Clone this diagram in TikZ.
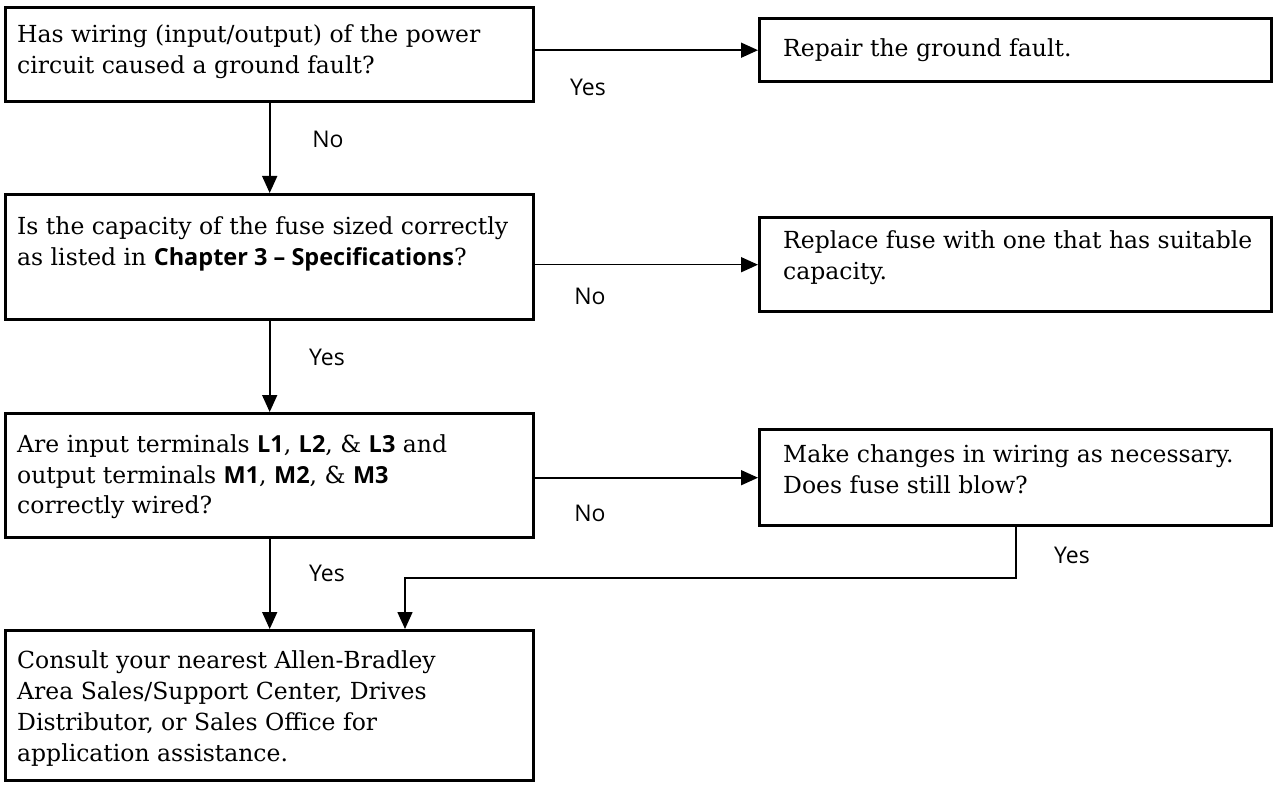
\documentclass[tikz,border=0pt]{standalone}
\usepackage{fontspec}
\setmainfont{DejaVu Serif}
\newfontfamily\lblfont{Open Sans}
\usetikzlibrary{arrows.meta}
\newcommand\bsans[1]{{\lblfont\bfseries #1}}
\begin{document}
\begin{tikzpicture}[x=1pt,y=-1pt,
  box/.style={draw, line width=3.4pt, anchor=north west, inner sep=0pt},
  txt/.style={anchor=base west, inner sep=0pt, font=\fontsize{23.5}{31}\selectfont},
  lbl/.style={font=\lblfont\fontsize{23}{26}\selectfont, inner sep=0pt},
  arr/.style={line width=1.6pt, -{Triangle[length=17pt,width=15pt]}},
  ln/.style={line width=1.6pt}]
\useasboundingbox (0,0) rectangle (1275,786);
% boxes
\node[box, minimum width=528pt, minimum height=94pt] (b1) at (4,6) {};
\node[box, minimum width=512pt, minimum height=63pt] (b2) at (758,17) {};
\node[box, minimum width=528pt, minimum height=125pt] (b3) at (4,193) {};
\node[box, minimum width=512pt, minimum height=94pt] (b4) at (758,216) {};
\node[box, minimum width=528pt, minimum height=124pt] (b5) at (4,412) {};
\node[box, minimum width=512pt, minimum height=96pt] (b6) at (758,428) {};
\node[box, minimum width=528pt, minimum height=150pt] (b7) at (4,629) {};
% texts
\node[txt] (t1) at (17,43) {\parbox[t]{515pt}{Has wiring (input/output) of the power\\circuit caused a ground fault?}};
\node[txt] (t2) at (783,57) {\parbox[t]{485pt}{Repair the ground fault.}};
\node[txt] (t3) at (17,235) {\parbox[t]{515pt}{Is the capacity of the fuse sized correctly\\as listed in \bsans{Chapter 3 – Specifications}?}};
\node[txt] (t4) at (783,249) {\parbox[t]{485pt}{Replace fuse with one that has suitable\\capacity.}};
\node[txt] (t5) at (17,452) {\parbox[t]{515pt}{Are input terminals \bsans{L1}, \bsans{L2}, \& \bsans{L3} and\\output terminals \bsans{M1}, \bsans{M2}, \& \bsans{M3}\\correctly wired?}};
\node[txt] (t6) at (783,462) {\parbox[t]{485pt}{Make changes in wiring as necessary.\\Does fuse still blow?}};
\node[txt] (t7) at (17,668) {\parbox[t]{515pt}{Consult your nearest Allen-Bradley\\Area Sales/Support Center, Drives\\Distributor, or Sales Office for\\application assistance.}};
% connectors
\draw[arr] (b2.west -| b1.east) -- (b2.west);
\draw[arr] (b1.south) -- (b3.north);
\draw[arr] (b4.west -| b3.east) -- (b4.west);
\draw[arr] (b3.south) -- (b5.north);
\draw[arr] (b6.west -| b5.east) -- (b6.west);
\draw[arr] (b5.south) -- (b7.north);
\coordinate (j) at (405,578);
\draw[arr] (b6.south) |- (j) -- (j |- b7.north);
% labels
\node[lbl] (l1) at (588,87) {Yes};
\node[lbl] (l2) at (328,139) {No};
\node[lbl] (l3) at (590,296) {No};
\node[lbl] (l4) at (327,357) {Yes};
\node[lbl] (l5) at (590,513) {No};
\node[lbl] (l6) at (327,573) {Yes};
\node[lbl] (l7) at (1072,555) {Yes};
\end{tikzpicture}
\end{document}
